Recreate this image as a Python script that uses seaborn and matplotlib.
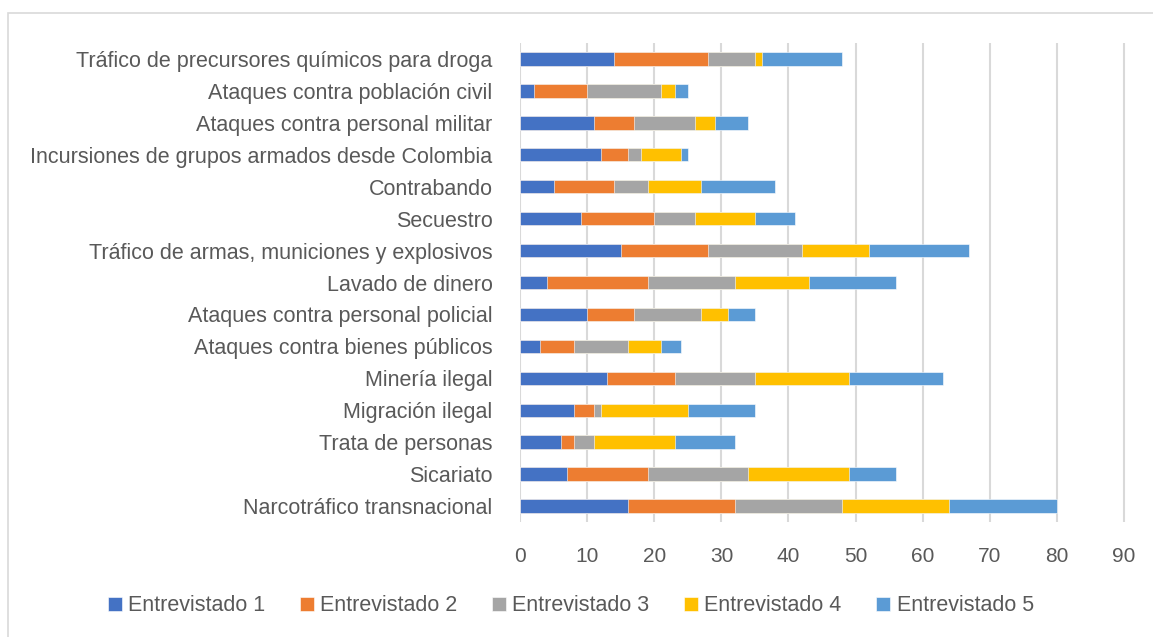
import numpy as np
import pandas as pd
import matplotlib
matplotlib.use('Agg')
import matplotlib.pyplot as plt
import seaborn as sns

# categorías (de arriba hacia abajo)
delitos = ['Tráfico de precursores químicos para droga',
           'Ataques contra población civil',
           'Ataques contra personal militar',
           'Incursiones de grupos armados desde Colombia',
           'Contrabando',
           'Secuestro',
           'Tráfico de armas, municiones y explosivos',
           'Lavado de dinero',
           'Ataques contra personal policial',
           'Ataques contra bienes públicos',
           'Minería ilegal',
           'Migración ilegal',
           'Trata de personas',
           'Sicariato',
           'Narcotráfico transnacional']

entrevistado_1 = [14, 2, 11, 12, 5, 9, 15, 4, 10, 3, 13, 8, 6, 7, 16]
entrevistado_2 = [14, 8, 6, 4, 9, 11, 13, 15, 7, 5, 10, 3, 2, 12, 16]
entrevistado_3 = [7, 11, 9, 2, 5, 6, 14, 13, 10, 8, 12, 1, 3, 15, 16]
entrevistado_4 = [1, 2, 3, 6, 8, 9, 10, 11, 4, 5, 14, 13, 12, 15, 16]
entrevistado_5 = [12, 2, 5, 1, 11, 6, 15, 13, 4, 3, 14, 10, 9, 7, 16]

series = ['Entrevistado 1', 'Entrevistado 2', 'Entrevistado 3', 'Entrevistado 4', 'Entrevistado 5']
colores = ['#4472C4', '#ED7D31', '#A5A5A5', '#FFC000', '#5B9BD5']

df = pd.DataFrame({'delito': delitos,
                   'Entrevistado 1': entrevistado_1,
                   'Entrevistado 2': entrevistado_2,
                   'Entrevistado 3': entrevistado_3,
                   'Entrevistado 4': entrevistado_4,
                   'Entrevistado 5': entrevistado_5})
acum = df[series].cumsum(axis=1)
acum['delito'] = df['delito']

sns.set_style('white')
plt.rcParams['font.family'] = ['Liberation Sans', 'DejaVu Sans']
gris = '#595959'

fig = plt.figure(figsize=(11.53, 6.37), dpi=100)
ax = fig.add_axes([0.4513, 0.1805, 0.525, 0.752])

# barras apiladas: se dibuja la suma acumulada de mayor a menor
for s, c in zip(series[::-1], colores[::-1]):
    sns.barplot(data=acum, x=s, y='delito', order=delitos, color=c, width=0.42, saturation=1,
                edgecolor='white', linewidth=0.4, ax=ax, label=s)

ax.set_xlim(0, 90.3)
ax.set_xticks(range(0, 91, 10))
ax.set_xlabel('')
ax.set_ylabel('')
ax.grid(axis='x', color='#D9D9D9', linewidth=1.5)
ax.set_axisbelow(True)
for sp in ax.spines.values():
    sp.set_visible(False)
ax.tick_params(axis='x', length=0, pad=18, labelsize=15, labelcolor=gris)
ax.tick_params(axis='y', length=0, pad=20, labelsize=15.5, labelcolor=gris)

h, l = ax.get_legend_handles_labels()
ax.legend(h[::-1], l[::-1], loc='center', bbox_to_anchor=(0.495, 0.049), bbox_transform=fig.transFigure,
          ncol=5, frameon=False, fontsize=15.5, labelcolor=gris, handlelength=0.65, handleheight=0.65,
          handletextpad=0.3, columnspacing=1.6)

# marco del gráfico
fig.patches.append(plt.Rectangle((8 / 1153, -0.01), 1.2, 1 - 13 / 637 + 0.01, transform=fig.transFigure,
                                 fill=False, edgecolor='#D9D9D9', linewidth=1.2))

fig.savefig('out.png', dpi=100, facecolor='white')
